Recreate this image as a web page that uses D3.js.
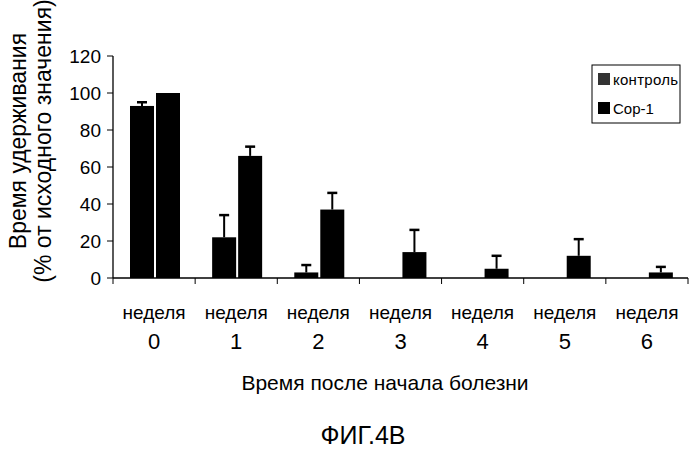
<!DOCTYPE html>
<html>
<script src='https://d3js.org/d3.v7.min.js'></script>
<body style="margin:0;background:#fff">
<script>
var weeks = ["0","1","2","3","4","5","6"];
var control = [93, 22, 3, 0, 0, 0, 0];
var controlErr = [2, 12, 4, 0, 0, 0, 0];
var cop1 = [100, 66, 37, 14, 5, 12, 3];
var cop1Err = [0, 5, 9, 12, 7, 9, 3];
var yTicks = [0, 20, 40, 60, 80, 100, 120];

var width = 699, height = 449;
var svg = d3.select("body").append("svg").attr("width", width).attr("height", height)
	.style("font-family", "Liberation Sans, Arial, sans-serif");

var x = d3.scaleBand().domain(weeks).range([113, 688]);
var y = d3.scaleLinear().domain([0, 120]).range([278, 56]);
var bw = 24, off = 17;

// axes
svg.append("line").attr("x1", 113).attr("x2", 113).attr("y1", y(120)).attr("y2", y(0)).attr("stroke", "#000").attr("stroke-width", 1.3);
svg.append("line").attr("x1", 113).attr("x2", 688).attr("y1", y(0)).attr("y2", y(0)).attr("stroke", "#000").attr("stroke-width", 1.3);
svg.selectAll(".yt").data(yTicks).enter().append("line")
	.attr("x1", 107).attr("x2", 113).attr("y1", d => y(d)).attr("y2", d => y(d)).attr("stroke", "#000");
svg.selectAll(".yl").data(yTicks).enter().append("text")
	.attr("x", 101).attr("y", d => y(d) + 7).attr("text-anchor", "end")
	.attr("font-size", 19).text(d => d);
svg.selectAll(".xt").data(weeks.concat(["end"])).enter().append("line")
	.attr("x1", (d, i) => 113 + i * x.bandwidth()).attr("x2", (d, i) => 113 + i * x.bandwidth())
	.attr("y1", y(0)).attr("y2", y(0) + 6).attr("stroke", "#000");

function bars(vals, errs, dx) {
	var g = svg.append("g");
	vals.forEach(function(v, i) {
		var x0 = x(weeks[i]) + dx;
		g.append("rect").attr("x", x0).attr("y", y(v)).attr("width", bw).attr("height", y(0) - y(v)).attr("fill", "#000");
		if (errs[i] > 0) {
			var cx = x0 + bw / 2;
			g.append("line").attr("x1", cx).attr("x2", cx).attr("y1", y(v)).attr("y2", y(v + errs[i])).attr("stroke", "#000").attr("stroke-width", 2);
			g.append("line").attr("x1", cx - 5).attr("x2", cx + 5).attr("y1", y(v + errs[i])).attr("y2", y(v + errs[i])).attr("stroke", "#000").attr("stroke-width", 2.5);
		}
	});
}
bars(control, controlErr, off);
bars(cop1, cop1Err, off + bw + 2);

// x labels
svg.selectAll(".w").data(weeks).enter().append("text")
	.attr("x", d => x(d) + x.bandwidth() / 2).attr("y", 319).attr("text-anchor", "middle")
	.attr("font-size", 19).text("неделя");
svg.selectAll(".n").data(weeks).enter().append("text")
	.attr("x", d => x(d) + x.bandwidth() / 2).attr("y", 349).attr("text-anchor", "middle")
	.attr("font-size", 22).text(d => d);
svg.append("text").attr("x", 385).attr("y", 390).attr("text-anchor", "middle").attr("font-size", 21)
	.text("Время после начала болезни");
svg.append("text").attr("x", 363).attr("y", 444).attr("text-anchor", "middle").attr("font-size", 25)
	.text("ФИГ.4В");

// y title
svg.append("text").attr("transform", "translate(26,141) rotate(-90)").attr("text-anchor", "middle")
	.attr("font-size", 23).text("Время удерживания");
svg.append("text").attr("transform", "translate(51,141) rotate(-90)").attr("text-anchor", "middle")
	.attr("font-size", 23).text("(% от исходного значения)");

// legend
svg.append("rect").attr("x", 592).attr("y", 65).attr("width", 88).attr("height", 58)
	.attr("fill", "none").attr("stroke", "#000").attr("stroke-width", 1);
svg.append("rect").attr("x", 598).attr("y", 73).attr("width", 12).attr("height", 12).attr("fill", "#333");
svg.append("text").attr("x", 613).attr("y", 85).attr("font-size", 15).attr("textLength", 65).text("контроль");
svg.append("rect").attr("x", 598).attr("y", 102).attr("width", 12).attr("height", 12).attr("fill", "#000");
svg.append("text").attr("x", 613).attr("y", 114).attr("font-size", 15).text("Cop-1");
</script>
</body>
</html>
